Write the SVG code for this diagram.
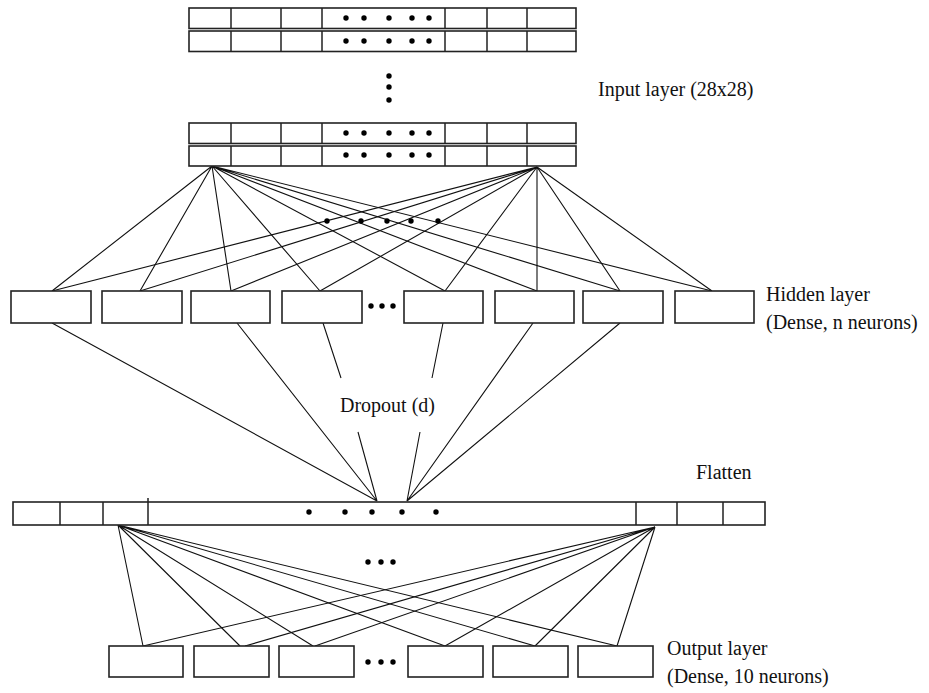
<svg xmlns="http://www.w3.org/2000/svg" width="929" height="693" viewBox="0 0 929 693">
<style>
.box{fill:#fff;stroke:#222;stroke-width:1.6}
.div{stroke:#222;stroke-width:1.5;fill:none}
.ln{stroke:#111;stroke-width:1.1;fill:none}
.dot{fill:#000}
.lbl{font-family:"Liberation Serif","Times New Roman",serif;font-size:20px;fill:#111}
</style>
<rect width="929" height="693" fill="#fff"/>
<g id="connectors">
  <path class="ln" d="M212,166 L52,291 M212,166 L140,291 M212,166 L231,291 M212,166 L320,291 M212,166 L445,291 M212,166 L537,291 M212,166 L620,291 M212,166 L712,291"/>
  <path class="ln" d="M537,167 L52,291 M537,167 L140,291 M537,167 L231,291 M537,167 L320,291 M537,167 L445,291 M537,167 L537,291 M537,167 L620,291 M537,167 L712,291"/>
  <path class="ln" d="M52,323 L377,501 M237,323 L377,501 M323,323 L341,378 M358,432 L377,501 M443,323 L432,378 M420,432 L407,501 M533,323 L407,501 M620,323 L407,501"/>
  <path class="ln" d="M118,525 L143,646 M118,525 L240,646 M118,525 L313,646 M118,525 L445,646 M118,525 L535,646 M118,525 L617,646"/>
  <path class="ln" d="M655,527 L143,646 M655,527 L245,646 M655,527 L315,646 M655,527 L445,646 M655,527 L535,646 M655,527 L617,646"/>
  <g class="dot">
    <circle cx="327" cy="221" r="2.7"/><circle cx="361" cy="221" r="2.7"/><circle cx="387" cy="221" r="2.7"/><circle cx="411" cy="221" r="2.7"/><circle cx="438" cy="221" r="2.7"/>
  </g>
</g>
<g id="input-layer">
  <rect class="box" x="189" y="8" width="387" height="20.5"/>
  <rect class="box" x="189" y="31" width="387" height="20.5"/>
  <rect class="box" x="189" y="123" width="387" height="20.5"/>
  <rect class="box" x="189" y="146" width="387" height="20"/>
  <path class="div" d="M231,8V28.5M281,8V28.5M322,8V28.5M445,8V28.5M487,8V28.5M527,8V28.5 M231,31V51.5M281,31V51.5M322,31V51.5M445,31V51.5M487,31V51.5M527,31V51.5 M231,123V143.5M281,123V143.5M322,123V143.5M445,123V143.5M487,123V143.5M527,123V143.5 M231,146V166M281,146V166M322,146V166M445,146V166M487,146V166M527,146V166"/>
  <g class="dot">
    <circle cx="346" cy="18" r="2.7"/><circle cx="364" cy="18" r="2.7"/><circle cx="389" cy="18" r="2.7"/><circle cx="412" cy="18" r="2.7"/><circle cx="429" cy="18" r="2.7"/>
    <circle cx="346" cy="41" r="2.7"/><circle cx="364" cy="41" r="2.7"/><circle cx="389" cy="41" r="2.7"/><circle cx="412" cy="41" r="2.7"/><circle cx="429" cy="41" r="2.7"/>
    <circle cx="389" cy="76" r="2.7"/><circle cx="389" cy="87" r="2.7"/><circle cx="389" cy="100" r="2.7"/>
    <circle cx="346" cy="133" r="2.7"/><circle cx="364" cy="133" r="2.7"/><circle cx="389" cy="133" r="2.7"/><circle cx="412" cy="133" r="2.7"/><circle cx="429" cy="133" r="2.7"/>
    <circle cx="346" cy="155" r="2.7"/><circle cx="364" cy="155" r="2.7"/><circle cx="389" cy="155" r="2.7"/><circle cx="412" cy="155" r="2.7"/><circle cx="429" cy="155" r="2.7"/>
  </g>
  <text class="lbl" x="598" y="96">Input layer (28x28)</text>
</g>
<g id="hidden-layer">
  <rect class="box" x="11" y="291" width="80" height="32"/>
  <rect class="box" x="102" y="291" width="80" height="32"/>
  <rect class="box" x="191" y="291" width="79" height="32"/>
  <rect class="box" x="282" y="291" width="80" height="32"/>
  <rect class="box" x="404" y="291" width="79" height="32"/>
  <rect class="box" x="495" y="291" width="79" height="32"/>
  <rect class="box" x="583" y="291" width="80" height="32"/>
  <rect class="box" x="675" y="291" width="79" height="32"/>
  <g class="dot"><circle cx="371" cy="306" r="2.7"/><circle cx="382" cy="306" r="2.7"/><circle cx="393" cy="306" r="2.7"/></g>
  <text class="lbl" x="766" y="301">Hidden layer</text>
  <text class="lbl" x="766" y="329">(Dense, n neurons)</text>
</g>
<g id="dropout">
  <text class="lbl" x="340" y="412">Dropout (d)</text>
</g>
<g id="flatten">
  <rect class="box" x="13" y="502" width="752" height="23"/>
  <path class="div" d="M60,502V525M103,502V525M148,498V525M636,502V525M677,502V525M723,502V525"/>
  <g class="dot"><circle cx="309" cy="512" r="2.7"/><circle cx="345" cy="512" r="2.7"/><circle cx="372" cy="512" r="2.7"/><circle cx="402" cy="512" r="2.7"/><circle cx="436" cy="512" r="2.7"/></g>
  <text class="lbl" x="696" y="479">Flatten</text>
</g>
<g id="middle-ellipsis" class="dot"><circle cx="368" cy="562" r="2.7"/><circle cx="381" cy="562" r="2.7"/><circle cx="393" cy="562" r="2.7"/></g>
<g id="output-layer">
  <rect class="box" x="109" y="646" width="74" height="31"/>
  <rect class="box" x="194" y="646" width="75" height="31"/>
  <rect class="box" x="279" y="646" width="75" height="31"/>
  <rect class="box" x="408" y="646" width="75" height="31"/>
  <rect class="box" x="493" y="646" width="75" height="31"/>
  <rect class="box" x="578" y="646" width="75" height="31"/>
  <g class="dot"><circle cx="368" cy="662" r="2.7"/><circle cx="381" cy="662" r="2.7"/><circle cx="393" cy="662" r="2.7"/></g>
  <text class="lbl" x="667" y="655">Output layer</text>
  <text class="lbl" x="667" y="683">(Dense, 10 neurons)</text>
</g>
</svg>
